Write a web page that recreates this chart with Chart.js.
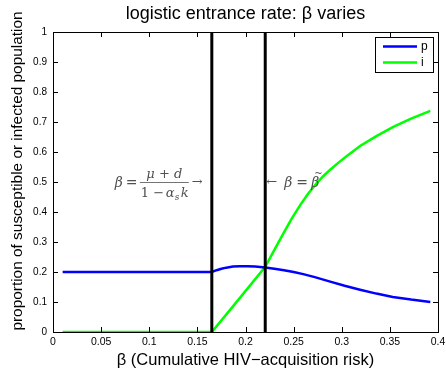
<!DOCTYPE html>
<html>
<head>
<meta charset="utf-8">
<script src="https://cdn.jsdelivr.net/npm/chart.js@4.4.0/dist/chart.umd.min.js"></script>
<style>
  html, body { margin: 0; padding: 0; background: #fff; }
  #wrap { width: 446px; height: 372px; }
</style>
</head>
<body>
<div id="wrap"><canvas id="chart"></canvas></div>
<script>
// beta grid and equilibrium proportions
const pBeta = [0.01, 0.165, 0.17, 0.175, 0.18, 0.187, 0.194, 0.202, 0.21, 0.2205, 0.23, 0.24, 0.25, 0.26, 0.272, 0.288, 0.303, 0.319, 0.336, 0.353, 0.372, 0.392];
const pValues = [0.2, 0.2, 0.206, 0.211, 0.2145, 0.218, 0.2195, 0.2195, 0.218, 0.215, 0.211, 0.206, 0.2, 0.193, 0.183, 0.168, 0.154, 0.141, 0.128, 0.117, 0.108, 0.1];

const iBeta = [0.01, 0.165, 0.1874, 0.2205, 0.23, 0.2394, 0.248, 0.2568, 0.265, 0.274, 0.281, 0.288, 0.296, 0.305, 0.319, 0.336, 0.353, 0.372, 0.392];
const iValues = [0, 0, 0.087, 0.217, 0.274, 0.329, 0.378, 0.423, 0.461, 0.496, 0.52, 0.541, 0.563, 0.586, 0.62, 0.653, 0.683, 0.711, 0.737];

// threshold values of beta (vertical markers)
const thresholds = [0.165, 0.2205];

const xTicks = [0, 0.05, 0.1, 0.15, 0.2, 0.25, 0.3, 0.35, 0.4];
const yTicks = [0, 0.1, 0.2, 0.3, 0.4, 0.5, 0.6, 0.7, 0.8, 0.9, 1];

const FONT = '"Liberation Sans", Arial, Helvetica, sans-serif';
const Y_TITLE = 'proportion of susceptible or infected population';

const toPoints = (xs, ys) => xs.map((x, k) => ({ x: x, y: ys[k] }));

const markerSets = thresholds.map(b => ({
    label: '',
    data: [{ x: b, y: 0 }, { x: b, y: 1 }],
    borderColor: '#000',
    borderWidth: 3,
    pointRadius: 0,
    showLine: true,
    order: 0,
    isMarker: true
}));

// ticks pointing inward on all four sides + box
const matlabAxes = {
    id: 'matlabAxes',
    afterDraw(chart) {
        const { ctx, chartArea: a, scales: { x, y } } = chart;
        ctx.save();
        ctx.strokeStyle = '#000';
        ctx.lineWidth = 1;
        ctx.beginPath();
        xTicks.forEach(v => {
            const px = Math.round(x.getPixelForValue(v)) + 0.5;
            ctx.moveTo(px, a.bottom); ctx.lineTo(px, a.bottom - 5);
            ctx.moveTo(px, a.top); ctx.lineTo(px, a.top + 5);
        });
        yTicks.forEach(v => {
            const py = Math.round(y.getPixelForValue(v)) + 0.5;
            ctx.moveTo(a.left, py); ctx.lineTo(a.left + 5, py);
            ctx.moveTo(a.right, py); ctx.lineTo(a.right - 5, py);
        });
        ctx.stroke();
        ctx.strokeRect(Math.round(a.left) + 0.5, Math.round(a.top) + 0.5,
            Math.round(a.right - a.left), Math.round(a.bottom - a.top));

        // y label, rotated
        ctx.translate(18, (a.top + a.bottom) / 2 - 11);
        ctx.rotate(-Math.PI / 2);
        ctx.font = '15.4px ' + FONT;
        ctx.fillStyle = '#000';
        ctx.textAlign = 'center';
        ctx.textBaseline = 'middle';
        ctx.fillText(Y_TITLE, 0, 0);
        ctx.restore();
    }
};

// legend box inside the top right corner
const insideLegend = {
    id: 'insideLegend',
    afterDraw(chart) {
        const { ctx, chartArea: a } = chart;
        const items = chart.data.datasets.filter(d => !d.isMarker);
        const bx = a.right - 63, by = a.top + 5, bw = 58, bh = 35;
        ctx.save();
        ctx.fillStyle = '#fff';
        ctx.fillRect(bx, by, bw, bh);
        ctx.strokeStyle = '#000';
        ctx.lineWidth = 1;
        ctx.strokeRect(bx + 0.5, by + 0.5, bw, bh);
        ctx.font = '12px ' + FONT;
        ctx.textBaseline = 'middle';
        items.forEach((d, k) => {
            const ly = by + 9.5 + k * 16;
            ctx.strokeStyle = d.borderColor;
            ctx.lineWidth = 2.5;
            ctx.beginPath();
            ctx.moveTo(bx + 8, ly);
            ctx.lineTo(bx + 42, ly);
            ctx.stroke();
            ctx.fillStyle = '#000';
            ctx.fillText(d.label, bx + 46, ly);
        });
        ctx.restore();
    }
};

// threshold formulas beside the vertical markers
const formulas = {
    id: 'formulas',
    afterDraw(chart) {
        const { ctx, scales: { x, y } } = chart;
        const v1 = x.getPixelForValue(thresholds[0]);
        const v2 = x.getPixelForValue(thresholds[1]);
        const yc = y.getPixelForValue(0.5);
        const serif = '"DejaVu Serif", "Liberation Serif", serif';
        ctx.save();
        ctx.fillStyle = '#505050';
        ctx.strokeStyle = '#505050';
        ctx.textBaseline = 'alphabetic';

        // beta = (mu + d) / (1 - alpha_s k) ->
        const fracL = v1 - 72, fracR = v1 - 23, fracC = (fracL + fracR) / 2;
        ctx.font = 'italic 14px ' + serif;
        ctx.textAlign = 'left';
        ctx.fillText('\u03B2', v1 - 97, yc + 5);
        ctx.font = '14px ' + serif;
        ctx.fillText('=', v1 - 86, yc + 5);
        ctx.lineWidth = 0.8;
        ctx.beginPath();
        ctx.moveTo(fracL, yc + 0.5); ctx.lineTo(fracR, yc + 0.5);
        ctx.stroke();
        ctx.textAlign = 'center';
        ctx.font = 'italic 13px ' + serif;
        ctx.fillText('\u03BC + d', fracC, yc - 4);
        ctx.textAlign = 'left';
        ctx.font = '13px ' + serif;
        ctx.fillText('1 \u2212', fracL + 1, yc + 15);
        ctx.font = 'italic 13px ' + serif;
        ctx.fillText('\u03B1', fracL + 26, yc + 15);
        ctx.font = 'italic 9px ' + serif;
        ctx.fillText('s', fracL + 35, yc + 18);
        ctx.font = 'italic 13px ' + serif;
        ctx.fillText('k', fracL + 41, yc + 15);
        ctx.font = '13px ' + serif;
        ctx.fillText('\u2192', v1 - 20, yc + 4);

        // <- beta = beta tilde
        ctx.fillText('\u2190', v2 + 1, yc + 4);
        ctx.font = 'italic 14px ' + serif;
        ctx.fillText('\u03B2', v2 + 19, yc + 5);
        ctx.font = '14px ' + serif;
        ctx.fillText('=', v2 + 31, yc + 5);
        ctx.font = 'italic 14px ' + serif;
        ctx.fillText('\u03B2', v2 + 46, yc + 5);
        ctx.font = '10px ' + serif;
        ctx.fillText('~', v2 + 49, yc - 6);
        ctx.restore();
    }
};

new Chart(document.getElementById('chart'), {
    type: 'scatter',
    data: {
        datasets: [
            ...markerSets,
            {
                label: 'p',
                data: toPoints(pBeta, pValues),
                borderColor: '#0000ff',
                borderWidth: 2.5,
                pointRadius: 0,
                showLine: true,
                tension: 0,
                order: 1
            },
            {
                label: 'i',
                data: toPoints(iBeta, iValues),
                borderColor: '#00ff00',
                borderWidth: 2.5,
                pointRadius: 0,
                showLine: true,
                tension: 0,
                order: 1
            }
        ]
    },
    plugins: [matlabAxes, insideLegend, formulas],
    options: {
        responsive: true,
        maintainAspectRatio: false,
        animation: false,
        layout: { padding: { left: 0, right: 8, top: 0, bottom: 0 } },
        plugins: {
            legend: { display: false },
            tooltip: { enabled: false },
            title: {
                display: true,
                fullSize: false,
                text: 'logistic entrance rate: \u03B2 varies',
                color: '#000',
                font: { family: FONT, size: 18, weight: 'normal' },
                padding: { top: 3, bottom: 7.4 }
            }
        },
        scales: {
            x: {
                type: 'linear',
                min: 0,
                max: 0.4,
                afterBuildTicks: s => { s.ticks = xTicks.map(v => ({ value: v })); },
                afterFit: s => { s.height = 40; s.paddingLeft = 0; s.paddingRight = 0; },
                ticks: {
                    color: '#000',
                    font: { family: FONT, size: 10.5 },
                    padding: 4,
                    maxRotation: 0,
                    autoSkip: false,
                    callback: v => String(+v.toFixed(2))
                },
                grid: { display: false, drawTicks: false },
                border: { display: false },
                title: {
                    display: true,
                    text: '\u03B2 (Cumulative HIV\u2212acquisition risk)',
                    color: '#000',
                    font: { family: FONT, size: 16.5 },
                    padding: { top: 0, bottom: 2 }
                }
            },
            y: {
                type: 'linear',
                min: 0,
                max: 1,
                afterBuildTicks: s => { s.ticks = yTicks.map(v => ({ value: v })); },
                afterFit: s => { s.width = 53; s.paddingTop = 0; s.paddingBottom = 0; },
                ticks: {
                    color: '#000',
                    font: { family: FONT, size: 10 },
                    padding: 6,
                    autoSkip: false,
                    callback: v => String(+v.toFixed(1))
                },
                grid: { display: false, drawTicks: false },
                border: { display: false },
                title: { display: false }
            }
        }
    }
});
</script>
</body>
</html>
